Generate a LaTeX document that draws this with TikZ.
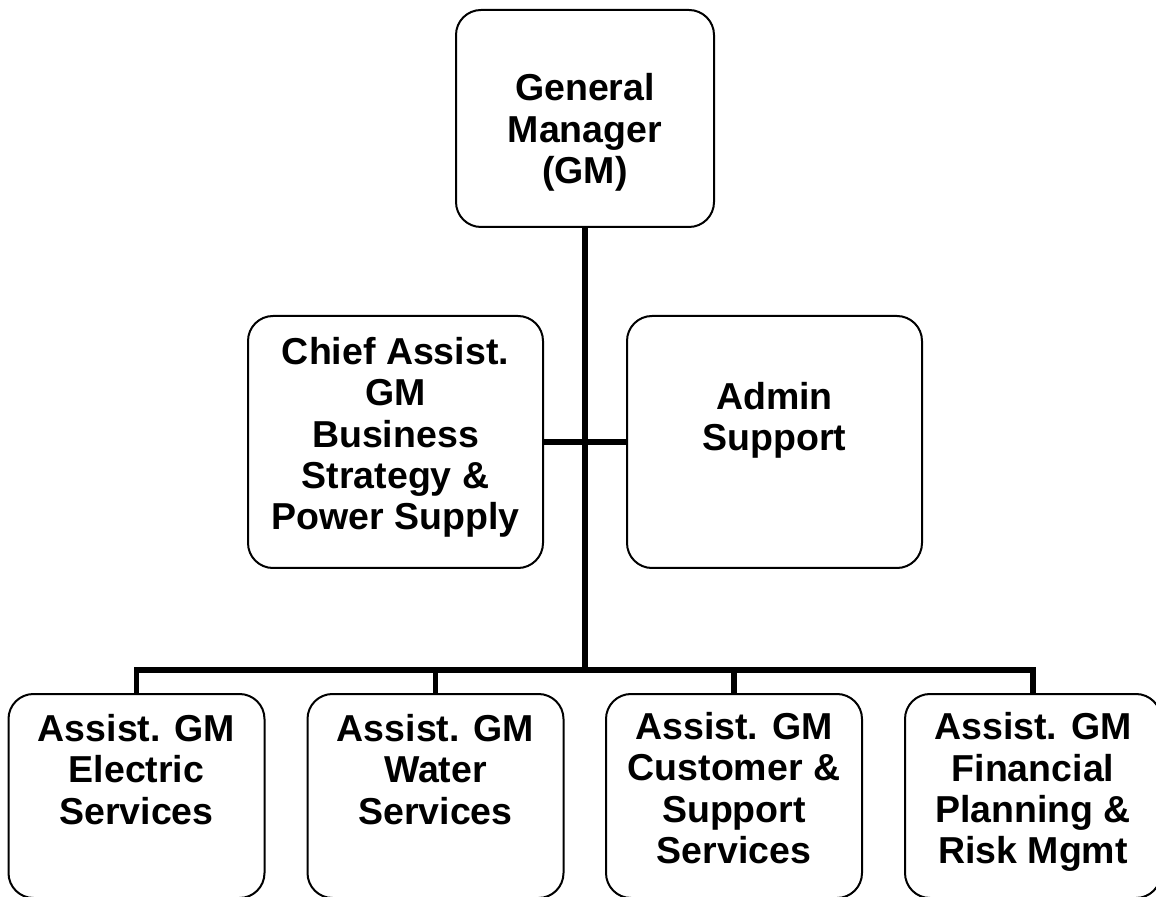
\documentclass[tikz,border=0pt]{standalone}
\usepackage{fontspec}
\setmainfont{Liberation Sans}
\usetikzlibrary{calc}

\begin{document}
\begin{tikzpicture}[x=0.5pt, y=-0.5pt]
        \tikzset{box/.style = {shape=rectangle, draw, line width=1pt, rounded corners=12.5pt}}
        \tikzset{boxtext/.style = {align=center, inner sep=0pt, font=\fontsize{18.75}{20.6}\selectfont\bfseries}}
        \tikzset{link/.style = {-, line width=2.75pt}}

        \useasboundingbox (0, 0) rectangle (1156, 897);
        \clip (0, 0) rectangle (1156, 897);

        \node[box, minimum width=129pt, minimum height=108.5pt] (gm) at (585, 118.5) {};
        \node[box, minimum width=147.5pt, minimum height=126pt] (chief) at (395.5, 442) {};
        \node[box, minimum width=147.5pt, minimum height=126pt] (admin) at (774.5, 442) {};
        \node[box, minimum width=128pt, minimum height=102pt] (elec) at (136.5, 796) {};
        \node[box, minimum width=128pt, minimum height=102pt] (water) at (435.5, 796) {};
        \node[box, minimum width=128pt, minimum height=102pt] (cust) at (734, 796) {};
        \node[box, minimum width=128pt, minimum height=102pt] (fin) at (1033, 796) {};

        \node[boxtext] (gmtext) at (585, 132.5) {General\\Manager\\(GM)};
        \node[boxtext] (chieftext) at (395.5, 437.5) {Chief Assist.\\GM\\Business\\Strategy \&\\Power Supply};
        \node[boxtext] (admintext) at (774.5, 420) {Admin\\Support};
        \node[boxtext] (electext) at (136.5, 769.5) {Assist. GM\\Electric\\Services};
        \node[boxtext] (watertext) at (435.5, 769.5) {Assist. GM\\Water\\Services};
        \node[boxtext] (custtext) at (734, 788) {Assist. GM\\Customer \&\\Support\\Services};
        \node[boxtext] (fintext) at (1033, 792) {Assist. GM\\Financial\\Planning \&\\Risk Mgmt};

        \coordinate (bus) at (585, 670);

        \draw[link] (gm.south) to (bus);
        \draw[link] (chief.east) to (admin.west);
        \draw[link] (elec.north) -- (elec.north |- bus) -- (fin.north |- bus) -- (fin.north);
        \draw[link] (water.north) to (water.north |- bus);
        \draw[link] (cust.north) to (cust.north |- bus);
      \end{tikzpicture}
\end{document}
